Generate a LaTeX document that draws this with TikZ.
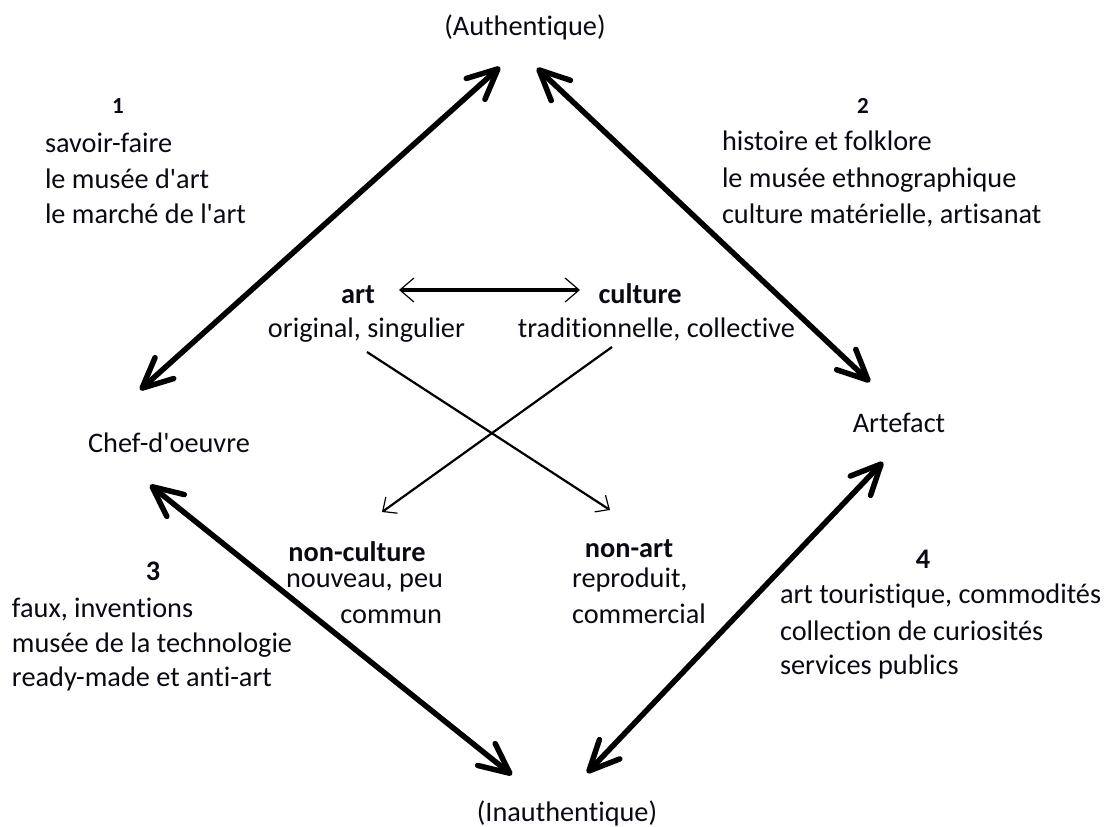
\documentclass[tikz,border=0pt]{standalone}
\usepackage{fontspec}
\setmainfont{Carlito}[Ligatures={NoCommon}]
\usetikzlibrary{arrows.meta}
\definecolor{ink}{RGB}{10,10,20}
\begin{document}
\begin{tikzpicture}[x=1pt,y=-1pt,
  txt/.style={inner sep=0pt, outer sep=0pt, text=ink, font=\fontsize{28.3}{35.5}\selectfont},
  bld/.style={txt, font=\fontsize{28.3}{35.5}\selectfont\bfseries},
  smallnum/.style={txt, font=\fontsize{23}{26}\selectfont\bfseries},
  bigarrow/.style={draw=black, line width=5.5pt, line cap=round, {Straight Barb[length=30pt,width=28pt,round]}-{Straight Barb[length=30pt,width=28pt,round]}},
  thinarrow/.style={draw=black, line width=2.2pt, -{Straight Barb[length=11pt,width=20pt,line width=1.2pt]}},
  midarrow/.style={draw=black, line width=4.5pt, {Straight Barb[length=14pt,width=24pt,line width=1.2pt]}-{Straight Barb[length=14pt,width=24pt,line width=1.2pt]}}
]
\useasboundingbox (0,0) rectangle (1111,827);

% corner labels
\node[txt, anchor=base] (auth) at (525,35) {(Authentique)};
\node[txt, anchor=base] (inauth) at (567,821) {(Inauthentique)};
\node[txt, anchor=base] (chef) at (169,452) {Chef-d\textquotesingle oeuvre};
\node[txt, anchor=base] (artef) at (899,432) {Artefact};

% block 1
\node[smallnum, anchor=base] (n1) at (118,113) {1};
\node[txt, anchor=base west] (b1a) at (45,152) {savoir-faire};
\node[txt, anchor=base west] (b1b) at (45,188) {le musée d\textquotesingle art};
\node[txt, anchor=base west] (b1c) at (45,223) {le marché de l\textquotesingle art};

% block 2
\node[smallnum, anchor=base] (n2) at (863,113) {2};
\node[txt, anchor=base west] (b2a) at (722,150) {histoire et folklore};
\node[txt, anchor=base west] (b2b) at (722,187) {le musée ethnographique};
\node[txt, anchor=base west] (b2c) at (722,223) {culture matérielle, artisanat};

% block 3
\node[bld, anchor=base] (n3) at (153,580) {3};
\node[txt, anchor=base west] (b3a) at (12,617) {faux, inventions};
\node[txt, anchor=base west] (b3b) at (12,652) {musée de la technologie};
\node[txt, anchor=base west] (b3c) at (12,686) {ready-made et anti-art};

% block 4
\node[bld, anchor=base] (n4) at (923,568) {4};
\node[txt, anchor=base west] (b4a) at (780,603) {art touristique, commodités};
\node[txt, anchor=base west] (b4b) at (780,640) {collection de curiosités};
\node[txt, anchor=base west] (b4c) at (780,674) {services publics};

% centre
\node[bld, anchor=base] (art) at (358,303) {art};
\node[txt, anchor=base] (orig) at (366.5,337) {original, singulier};
\node[bld, anchor=base] (cult) at (640,303) {culture};
\node[txt, anchor=base] (trad) at (656.5,337) {traditionnelle, collective};
\node[bld, anchor=base] (nonc) at (357,561) {non-culture};
\node[txt, anchor=base east] (nouv) at (443,587) {nouveau, peu};
\node[txt, anchor=base east] (commun) at (442,623) {commun};
\node[bld, anchor=base] (nona) at (629,557) {non-art};
\node[txt, anchor=base west] (repr) at (572,587) {reproduit,};
\node[txt, anchor=base west] (comc) at (572,623) {commercial};

% arrow end points
\coordinate (a1) at (140,390); \coordinate (a2) at (500,67);
\coordinate (b1) at (537,68);  \coordinate (b2) at (870,382);
\coordinate (c1) at (150,485); \coordinate (c2) at (512,775);
\coordinate (d1) at (587,773); \coordinate (d2) at (883,462);
\coordinate (m1) at (399,290); \coordinate (m2) at (580,290);
\coordinate (s1) at (367,352); \coordinate (t1) at (610,510);
\coordinate (s2) at (612,347); \coordinate (t2) at (382,512);

\draw[bigarrow] (a1) -- (a2);
\draw[bigarrow] (b1) -- (b2);
\draw[bigarrow] (c1) -- (c2);
\draw[bigarrow] (d1) -- (d2);
\draw[midarrow] (m1) -- (m2);
\draw[thinarrow] (s1) -- (t1);
\draw[thinarrow] (s2) -- (t2);
\end{tikzpicture}
\end{document}
